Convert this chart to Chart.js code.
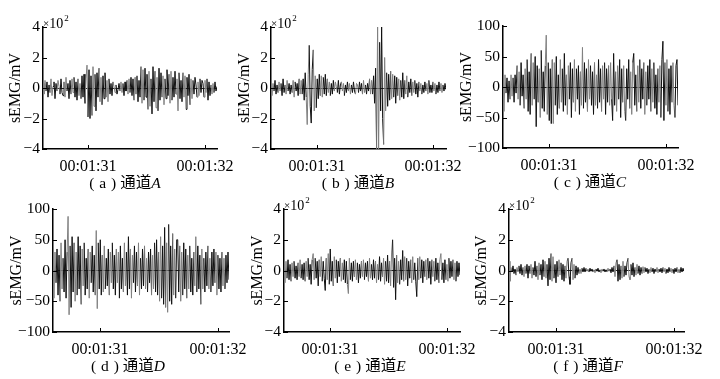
<!DOCTYPE html>
<html>
<head>
<meta charset="utf-8">
<script src="https://cdn.jsdelivr.net/npm/chart.js@4/dist/chart.umd.min.js"></script>
<style>
  html, body { margin: 0; padding: 0; background: #fff; }
  #page { position: relative; width: 720px; height: 379px; overflow: hidden; }
  #page canvas { position: absolute; }
  .cap { position: absolute; transform: translate(-50%, -50%); white-space: nowrap;
         font: 15.5px "Liberation Serif", serif; color: #000; word-spacing: 1px; }
  .cap .zh { font-family: "Noto Sans CJK SC", sans-serif; margin-left: 4px; }
  .cap i { font-style: italic; }
</style>
</head>
<body>
<div id="page"></div>
<script>
// sEMG samples (mV) left to right
const chA = [30,-40,50,-20,40,-60,20,-30,60,-50, 10,40,-70,30,-20,50,10,-40,60,-30,
  -50,40,-60,70,-20,30,-70,50,-40,60, -30,70,-60,40,-80,60,-50,30,-70,80,
  -60,90,-100,60,150,-190,120,-200,80,-180, 140,-120,90,-150,100,-60,130,-90,70,-110,
  80,-70,100,-60,50,-90,60,-40,30,-50, 40,10,-30,20,-40,-10,30,-20,40,-30,
  30,-50,40,-20,50,-40,60,-30,70,-50, 60,-80,70,-40,80,-90,50,-60,140,-100,
  120,-80,130,-60,90,-140,110,-120,60,-170, 140,-90,110,-130,70,-150,130,-80,100,-60,
  80,-110,60,-70,120,-50,90,-100,110,-80, 70,-60,110,-40,60,-150,100,-70,50,-90,
  100,-60,80,-140,70,-50,90,-110,60,-70, 50,-40,70,20,-60,40,-50,60,-30,50,
  30,-60,50,-30,60,-80,40,-50,20,-40, 30,-30,40,-20,10];
const chB = [40,-50,30,-20,50,-40,20,-30,40,-20, 30,-50,60,-30,20,-40,50,-20,30,-40,
  20,-30,50,-60,40,-20,30,-50,60,-40, 50,-40,60,-80,100,-60,-240,90,280,-120,
  -230,120,250,-150,80,-130,60,-70,90,-50, 80,-60,70,-40,90,-50,60,-30,40,-50,
  30,-40,50,-20,40,10,-30,50,-40,20, 40,-20,30,-50,20,-30,40,-20,30,-40,
  20,-30,40,-20,-40,30,20,-30,40,-20, 30,-40,50,-30,20,-40,30,-20,60,-40,
  50,-40,80,-100,130,-410,410,-410,300,-150, 410,-200,-370,200,-150,100,-120,90,-80,110,
  -70,90,-60,80,-100,70,-50,60,-80,50, -60,100,-70,50,-40,80,-60,40,-30,60,
  -50,40,-30,50,-40,30,-60,40,-20,30, -40,20,-30,40,-20,30,-40,50,-30,20,
  -30,40,-20,30,-40,20,-30,40,-20,30, -30,20,-20,30,-10];
const chC = [30,-40,20,-10,15,-25,10,-20,20,-15, 15,-25,20,-10,35,-20,25,-30,40,-15,
  20,-35,30,-20,45,-40,25,-45,55,-30, 40,-20,50,-65,35,-25,30,-50,60,-35,
  25,-40,35,85,-45,40,-55,30,-60,45, -60,40,-30,50,-45,20,-35,45,-25,30,
  -40,55,-30,20,-45,35,-20,40,-50,30, -25,45,-40,30,-20,35,-45,25,-30,65,
  -35,40,-25,30,-40,45,-20,35,-30,25, -45,40,-30,20,-35,45,-25,30,-40,35,
  -20,40,-45,30,-25,35,-30,40,-20,-55, 55,-30,25,-40,35,-20,45,-50,30,-25,
  35,-40,-55,30,-20,45,-35,25,-45,40, 55,-30,20,-40,35,-25,45,-35,30,-20,
  40,-45,25,-30,35,-20,45,-40,30,-25, 40,-35,20,-45,30,-25,35,-50,45,75,
  -55,40,-30,45,-40,30,-45,35,-25,40, -30,-50,35,45,-30];
const chD = [40,-45,30,-20,35,-40,25,-50,45,-30, 20,-35,50,-45,30,88,-72,40,-60,55,
  -35,45,-50,30,-40,55,-30,40,-55,35, -25,45,-40,20,-30,35,-45,30,-20,40,
  -35,25,-40,65,-62,45,-30,50,-40,25, -35,40,-30,20,-25,35,-40,30,-20,45,
  -30,25,-40,35,-20,30,-45,40,-30,20, -35,45,-25,30,-40,55,-30,35,-45,25,
  -20,40,-35,30,-25,45,-40,20,-30,35, -25,40,-30,20,-35,30,-20,35,-40,25,
  -30,45,-35,50,-40,30,-50,55,-45,40, -55,70,-60,45,-68,75,-50,40,-55,60,
  -40,35,-45,50,50,-35,40,-50,30,-40, 45,-30,35,-45,25,-30,40,-35,20,-40,
  30,-25,55,-35,40,-30,25,-55,35,-30, 20,-35,30,-25,40,-30,20,-35,30,-25,
  35,-20,30,-40,25,-30,20,-35,30,-25, 20,-30,25,-20,30,-15];
const chE = [70,-80,60,-50,70,-60,40,-70,50,-40, 60,-50,30,-60,50,-40,70,-50,40,-60,
  50,-70,60,-40,80,-60,40,-90,70,110, -60,80,-50,60,-100,70,-40,90,-70,60,
  -50,-130,80,-60,110,-90,140,-70,60,-100, 90,-50,70,-80,60,-40,80,-70,50,-60,
  70,-80,60,-90,-150,80,-60,50,-70,60, -40,70,-60,50,-80,40,-50,60,-40,70,
  -60,50,-40,60,-70,80,-50,40,-60,70, -50,60,-80,40,-60,90,-70,50,-40,80,
  -90,60,-70,100,-80,60,-100,120,200,-110, 80,-190,100,-80,60,-90,70,-60,130,-70,
  90,-60,80,-100,60,-50,70,-80,90,-60, 50,-70,-170,80,-60,90,-50,70,-80,60,
  -40,70,-60,80,-50,60,-90,70,-40,60, -70,80,-60,50,-80,70,110,-60,50,-80,
  70,-60,40,-70,80,-50,60,-40,70,-60, 50,-70,60,-40,50,-30];
const chF = [60,-70,20,-10,30,-20,10,-30,20,-10, 30,-20,40,-30,20,-40,30,-20,40,-50,
  30,-20,40,-50,20,-30,60,-40,30,-60, 50,-30,40,-60,70,-40,60,-50,40,-100,
  80,-60,110,-70,90,-50,40,-80,60,-40, 70,-30,50,-60,40,-70,30,-50,60,80,
  -40,-90,50,80,-60,40,-50,30,-30,20, -20,10,-20,15,-10,20,-10,15,-5,10,
  -10,15,-5,10,-10,5,-15,10,-5,15, -10,5,-15,10,-5,10,-10,5,-10,15,
  -5,10,-15,20,-10,30,-40,50,70,-70, 40,-60,30,-50,60,-40,30,-30,50,80,
  -40,-60,40,-30,50,-40,20,-30,40,-20, 30,-30,20,-20,25,-15,20,-10,15,-20,
  10,-15,20,-10,15,-20,10,-10,20,-15, 10,-10,15,-15,20,-10,15,-20,10,-15,
  20,-10,15,-15,10,-20,15,-10,20,-15, 10,-15,20,-10,15,-5];

// tick values
const timeTicks = [31, 32];            // seconds, shown as 00:01:ss
const yTicksBig = [-400, -200, 0, 200, 400];   // shown in units of 10^2
const yTicksSmall = [-100, -50, 0, 50, 100];

const letters = ['a', 'b', 'c', 'd', 'e', 'f'];
const channels = ['A', 'B', 'C', 'D', 'E', 'F'];

// layout of each panel on the page (pixels)
const panels = [
  { data: chA, t: [30.615, 32.103], big: true,  ax: 43,  right: 217, top: 27,  bottom: 149, titleOff: 27, cap: [125, 181] },
  { data: chB, t: [30.603, 32.112], big: true,  ax: 271, right: 446, top: 27,  bottom: 149, titleOff: 26, cap: [358, 181] },
  { data: chC, t: [30.607, 32.103], big: false, ax: 503, right: 678, top: 26,  bottom: 148, titleOff: 36, cap: [590, 180] },
  { data: chD, t: [30.602, 32.093], big: false, ax: 53,  right: 229, top: 209, bottom: 332, titleOff: 36, cap: [128, 364] },
  { data: chE, t: [30.607, 32.111], big: true,  ax: 284, right: 460, top: 209, bottom: 332, titleOff: 26, cap: [370, 364] },
  { data: chF, t: [30.602, 32.085], big: true,  ax: 509, right: 684, top: 209, bottom: 332, titleOff: 27, cap: [588, 364] }
];

const minus = s => s.replace('-', '\u2212');
const fmtTime = v => '00:01:' + String(v).padStart(2, '0');

// inward tick marks, y title and the x10^2 note
const extras = {
  id: 'extras',
  afterDraw(chart, args, o) {
    const { ctx, chartArea: a, scales } = chart;
    ctx.save();
    ctx.strokeStyle = '#000';
    ctx.lineWidth = 1;
    ctx.beginPath();
    scales.x.ticks.forEach(t => {
      const x = Math.round(scales.x.getPixelForValue(t.value)) + 0.5;
      ctx.moveTo(x, a.bottom); ctx.lineTo(x, a.bottom - 4);
    });
    scales.y.ticks.forEach(t => {
      const y = Math.round(scales.y.getPixelForValue(t.value)) + 0.5;
      ctx.moveTo(a.left, y); ctx.lineTo(a.left + 4, y);
    });
    ctx.stroke();
    ctx.fillStyle = '#000';
    ctx.font = '16px "Liberation Serif"';
    ctx.textAlign = 'center';
    ctx.textBaseline = 'middle';
    ctx.translate(a.left - o.titleOff, (a.top + a.bottom) / 2);
    ctx.rotate(-Math.PI / 2);
    ctx.fillText('sEMG/mV', 0, 0);
    ctx.restore();
    if (o.big) {
      ctx.save();
      ctx.fillStyle = '#000';
      ctx.textAlign = 'left';
      ctx.textBaseline = 'alphabetic';
      ctx.font = '11px "Liberation Serif"';
      ctx.fillText('\u00d7', a.left, a.top);
      let x = a.left + ctx.measureText('\u00d7').width;
      ctx.font = '14px "Liberation Serif"';
      ctx.fillText('10', x, a.top + 1);
      x += ctx.measureText('10').width + 1;
      ctx.font = '9px "Liberation Serif"';
      ctx.fillText('2', x, a.top - 6);
      ctx.restore();
    }
  }
};

const page = document.getElementById('page');
const PADL = 60, PADT = 14, PADR = 34, XH = 30;

panels.forEach((p, k) => {
  const cv = document.createElement('canvas');
  const w = (p.right - p.ax) + PADL + PADR;
  const h = (p.bottom - p.top) + PADT + XH;
  cv.width = w; cv.height = h;
  cv.style.left = (p.ax - PADL) + 'px';
  cv.style.top = (p.top - PADT) + 'px';
  cv.style.width = w + 'px'; cv.style.height = h + 'px';
  page.appendChild(cv);

  const step = (p.t[1] - p.t[0]) / (p.data.length - 1);
  const pts = p.data.map((v, i) => ({ x: p.t[0] + i * step, y: v }));
  const yt = p.big ? yTicksBig : yTicksSmall;

  new Chart(cv, {
    type: 'line',
    data: {
      datasets: [{
        data: pts,
        borderWidth: 1,
        borderColor: '#111',
        pointRadius: 0,
        tension: 0,
        segment: { borderColor: c => ((c.p0DataIndex % 7) < 3 ? '#808080' : '#111') }
      }]
    },
    options: {
      responsive: false,
      animation: false,
      events: [],
      layout: { padding: { top: PADT, right: PADR, left: 0, bottom: 0 } },
      plugins: { legend: { display: false }, tooltip: { enabled: false },
                 extras: { titleOff: p.titleOff, big: p.big } },
      scales: {
        x: {
          type: 'linear', min: p.t[0], max: p.t[1],
          afterBuildTicks: s => { s.ticks = timeTicks.map(v => ({ value: v })); },
          afterFit: s => { s.height = XH; },
          grid: { display: false },
          border: { display: true, color: '#000', width: 1.5 },
          ticks: { autoSkip: false, maxRotation: 0, padding: 0, color: '#000',
                   font: { family: 'Liberation Serif', size: 16 }, callback: v => fmtTime(v) }
        },
        y: {
          min: yt[0], max: yt[yt.length - 1],
          afterBuildTicks: s => { s.ticks = yt.map(v => ({ value: v })); },
          afterFit: s => { s.width = PADL; },
          grid: { drawTicks: false, color: c => (c.tick && c.tick.value === 0 ? '#222' : 'rgba(0,0,0,0)') },
          border: { display: true, color: '#000', width: 1.5 },
          ticks: { padding: 3, color: '#000', font: { family: 'Liberation Serif', size: 15.5 },
                   callback: v => minus(String(p.big ? v / 100 : v)) }
        }
      }
    },
    plugins: [extras]
  });

  const cap = document.createElement('div');
  cap.className = 'cap';
  cap.style.left = p.cap[0] + 'px';
  cap.style.top = p.cap[1] + 'px';
  cap.innerHTML = '( ' + letters[k] + ' )<span class="zh">通道</span><i>' + channels[k] + '</i>';
  page.appendChild(cap);
});
</script>
</body>
</html>
